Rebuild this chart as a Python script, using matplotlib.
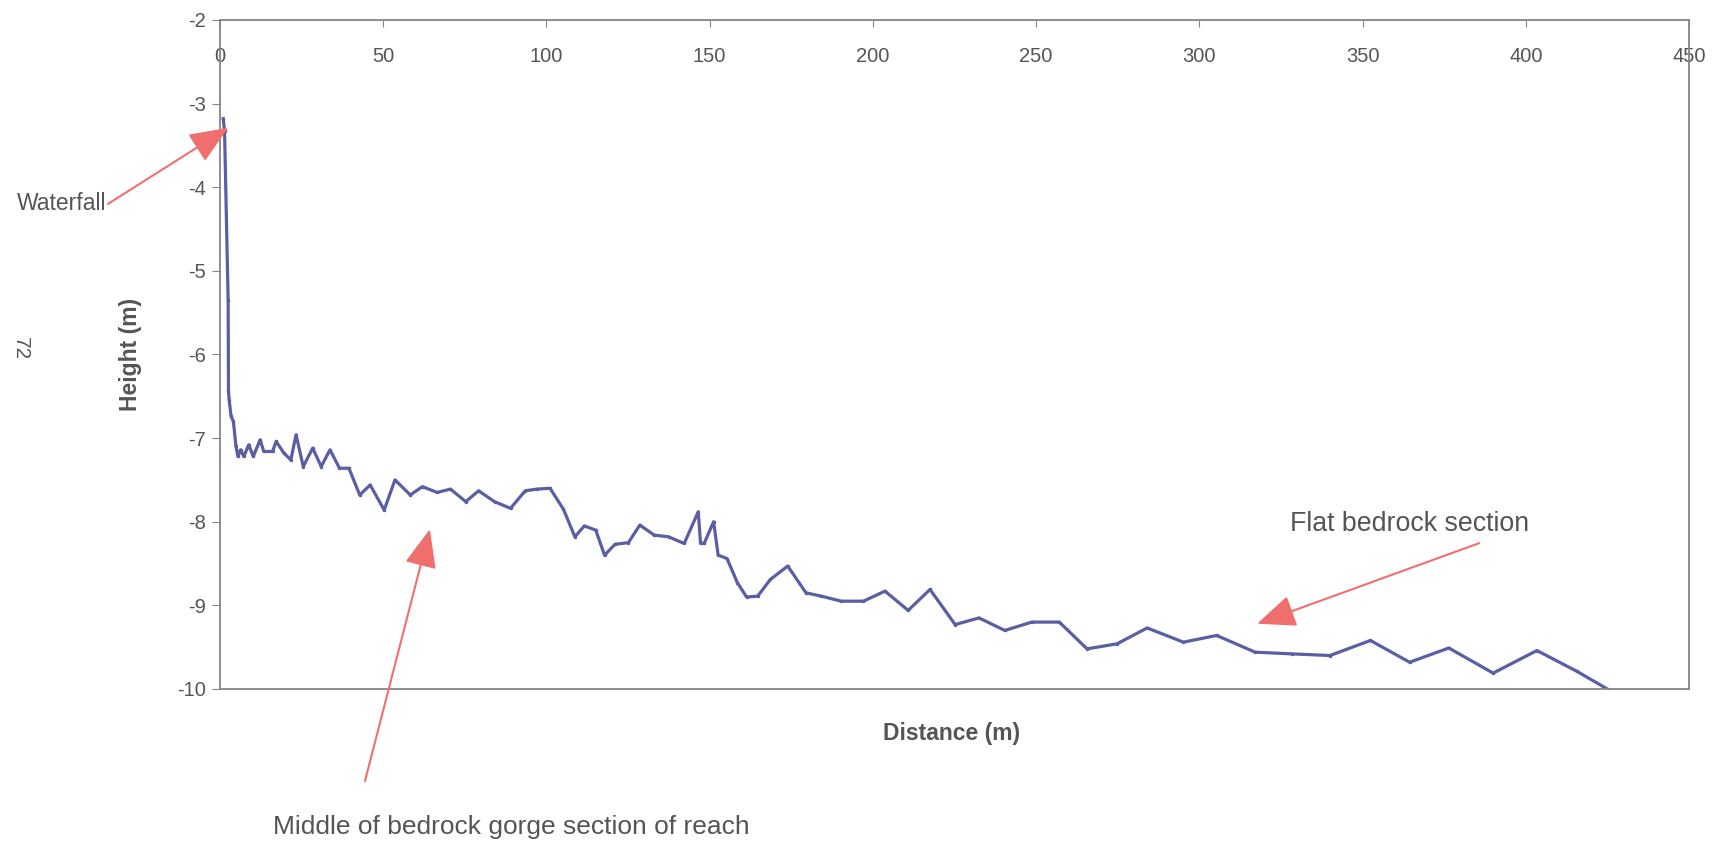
import matplotlib.pyplot as plt

plt.rcParams['font.family'] = ['Liberation Sans', 'DejaVu Sans']
plt.rcParams['axes.unicode_minus'] = False

# Long profile of the reach: distance downstream (m) and bed height (m)
distance = [1.0, 1.4, 2.5, 2.6, 2.8, 3.4, 4.1, 4.9, 5.5, 6.3, 7.3, 8.8, 10.2,
            12.3, 13.4, 16.1, 17.2, 19.6, 21.7, 23.3, 25.5, 28.4, 31.0, 33.7,
            36.6, 39.5, 42.8, 46.0, 50.3, 53.6, 58.3, 62.0, 66.5, 70.6, 75.3,
            79.2, 84.1, 89.0, 93.5, 97.0, 101.1, 105.2, 108.7, 111.6, 115.1,
            117.8, 121.0, 125.1, 128.6, 133.0, 137.4, 142.2, 146.5, 147.2,
            148.3, 151.2, 152.6, 155.3, 158.5, 161.3, 164.7, 168.6, 173.9,
            179.5, 184.2, 190.3, 197.1, 203.7, 210.8, 217.5, 225.2, 232.5,
            240.4, 248.7, 257.1, 265.6, 274.8, 284.0, 295.1, 305.3, 317.1,
            328.3, 340.0, 352.4, 364.4, 376.4, 390.0, 403.4, 415.7, 425.4]
height = [-3.18, -3.33, -5.35, -6.44, -6.54, -6.74, -6.80, -7.10, -7.22, -7.14,
          -7.22, -7.08, -7.22, -7.02, -7.16, -7.16, -7.04, -7.18, -7.26, -6.96,
          -7.34, -7.12, -7.34, -7.14, -7.36, -7.36, -7.68, -7.56, -7.86, -7.50,
          -7.68, -7.58, -7.65, -7.61, -7.76, -7.63, -7.76, -7.84, -7.63, -7.61,
          -7.60, -7.85, -8.18, -8.05, -8.10, -8.40, -8.27, -8.25, -8.04, -8.16,
          -8.18, -8.26, -7.88, -8.26, -8.26, -8.00, -8.40, -8.44, -8.73, -8.90,
          -8.89, -8.69, -8.53, -8.85, -8.89, -8.95, -8.95, -8.83, -9.06, -8.81,
          -9.23, -9.15, -9.30, -9.20, -9.20, -9.52, -9.46, -9.27, -9.44, -9.36,
          -9.56, -9.58, -9.60, -9.42, -9.68, -9.51, -9.81, -9.54, -9.79, -10.01]

x_ticks = [0, 50, 100, 150, 200, 250, 300, 350, 400, 450]
y_ticks = [-2, -3, -4, -5, -6, -7, -8, -9, -10]

line_color = '#5a5ea3'
arrow_color = '#ef6f6f'
text_color = '#555555'
axis_color = '#858585'

fig = plt.figure(figsize=(17.2, 8.46), dpi=100)
ax = fig.add_axes([0.1279, 0.1856, 0.8541, 0.7908])

ax.plot(distance, height, color=line_color, lw=2.3, marker='.', ms=3)

ax.set_xlim(0, 450)
ax.set_ylim(-10, -2)
ax.set_xticks(x_ticks)
ax.set_yticks(y_ticks)

# x axis crosses at the top, labels sit just under it
ax.xaxis.set_ticks_position('top')
ax.tick_params(axis='x', direction='in', length=5, pad=-33, labelsize=14.5,
               color=axis_color, labelcolor=text_color)
ax.tick_params(axis='y', direction='out', length=6, pad=4, labelsize=14.5,
               color=axis_color, labelcolor=text_color)
for s in ax.spines.values():
    s.set_color(axis_color)
    s.set_linewidth(1.3)

ax.set_xlabel('Distance (m)', fontsize=16.5, fontweight='bold', color=text_color,
              va='center')
ax.xaxis.set_label_coords(0.498, -0.066)
ax.set_ylabel('Height (m)', fontsize=16.5, fontweight='bold', color=text_color,
              va='center')
ax.yaxis.set_label_coords(-0.0606, 0.5)

# Annotated reaches
arrow = dict(arrowstyle='-|>,head_length=1.2,head_width=0.5', color=arrow_color,
             lw=1.5, shrinkA=0, shrinkB=0, mutation_scale=20)
ax.annotate('', xy=(2.5, -3.29), xytext=(0.0628, 0.759),
            textcoords='figure fraction', arrowprops=arrow)
ax.annotate('', xy=(64.3, -8.09), xytext=(0.2122, 0.0768),
            textcoords='figure fraction', arrowprops=arrow)
ax.annotate('', xy=(317.7, -9.22), xytext=(0.860, 0.358),
            textcoords='figure fraction', arrowprops=arrow)

fig.text(0.0099, 0.760, 'Waterfall', fontsize=16.5, color=text_color,
         ha='left', va='center')
fig.text(0.159, 0.022, 'Middle of bedrock gorge section of reach', fontsize=19,
         color=text_color, ha='left', va='center')
fig.text(0.75, 0.381, 'Flat bedrock section', fontsize=19.3, color=text_color,
         ha='left', va='center')

# page number
fig.text(0.0116, 0.5875, '72', fontsize=15, color=text_color, rotation=-90,
         ha='center', va='center')

fig.savefig('out.png', dpi=100, facecolor='white')
